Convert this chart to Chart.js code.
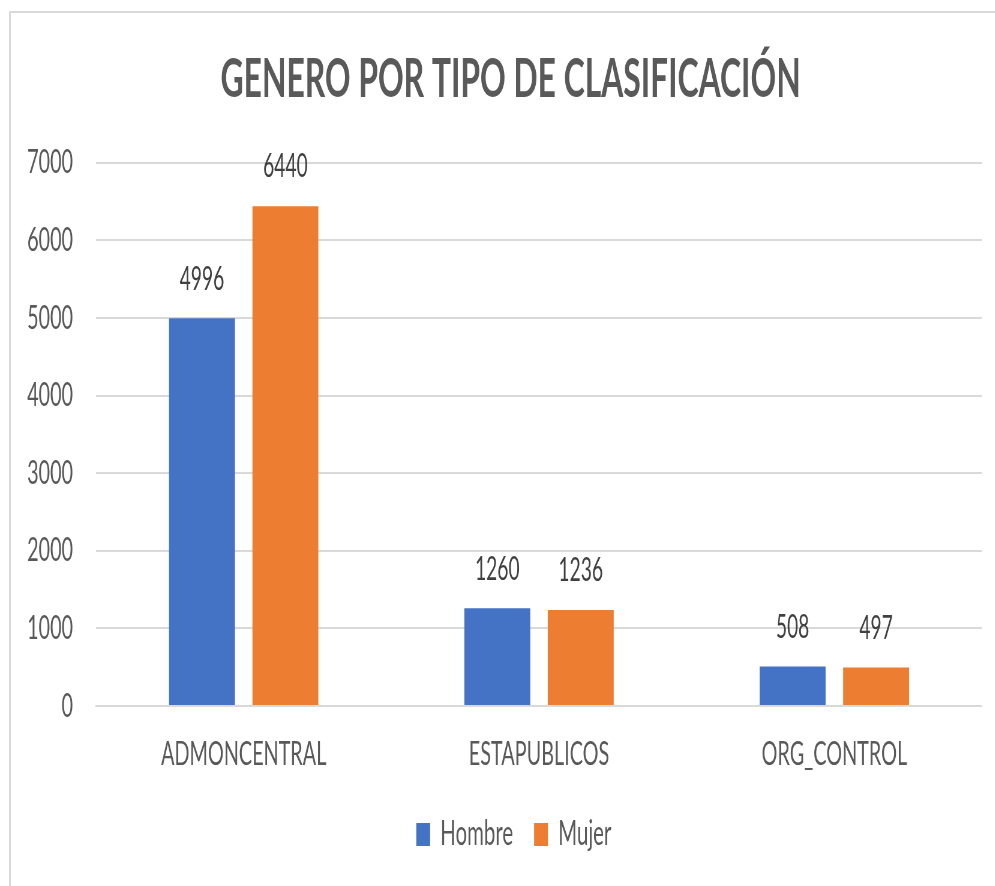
<!DOCTYPE html>
<html>
<head>
<meta charset="utf-8">
<script src="https://cdn.jsdelivr.net/npm/chart.js@4.4.1/dist/chart.umd.min.js"></script>
<style>
  html, body { margin: 0; padding: 0; background: #ffffff; overflow: hidden; width: 995px; height: 886px; }
  #frame { position: absolute; left: 9px; top: 11px; width: 2000px; height: 2000px; border: 2px solid #d9d9d9; box-sizing: border-box; }
  #wrap { position: absolute; left: 0; top: 0; width: 1658px; height: 886px; transform: scaleX(0.6); transform-origin: 0 0; }
</style>
</head>
<body>
<div id="frame"></div>
<div id="wrap"><canvas id="c" width="1658" height="886"></canvas></div>
<script>
const categories = ["ADMONCENTRAL", "ESTAPUBLICOS", "ORG_CONTROL"];
const hombre = [4996, 1260, 508];
const mujer = [6440, 1236, 497];
const seriesNames = ["Hombre", "Mujer"];
const yTicks = [0, 1000, 2000, 3000, 4000, 5000, 6000, 7000];
const chartTitle = "GENERO POR TIPO DE CLASIFICACIÓN";

const FONT = "Lato, 'Open Sans', sans-serif";

const valueLabels = {
  id: 'valueLabels',
  afterDatasetsDraw(chart) {
    const ctx = chart.ctx;
    ctx.save();
    ctx.font = "32px " + FONT;
    ctx.fillStyle = "#404040";
    ctx.textAlign = "center";
    ctx.textBaseline = "middle";
    chart.data.datasets.forEach((ds, i) => {
      const meta = chart.getDatasetMeta(i);
      meta.data.forEach((el, j) => {
        ctx.fillText(String(ds.data[j]), el.x, el.y - 39);
      });
    });
    ctx.restore();
  }
};

// Excel centres title and legend on the whole chart frame rather than the canvas
const boxShift = {
  id: 'boxShift',
  afterLayout(chart) {
    const tdx = 32.7, ldx = 38;
    chart.titleBlock.left += tdx;
    chart.titleBlock.right += tdx;
    chart.legend.left += ldx;
    chart.legend.right += ldx;
  }
};

new Chart(document.getElementById('c'), {
  type: 'bar',
  data: {
    labels: categories,
    datasets: [
      { label: seriesNames[0], data: hombre, backgroundColor: '#4472C4' },
      { label: seriesNames[1], data: mujer, backgroundColor: '#ED7D31' }
    ]
  },
  options: {
    responsive: false,
    animation: false,
    devicePixelRatio: 1,
    categoryPercentage: 0.565,
    barPercentage: 0.79,
    layout: { padding: { top: 20, left: 0, right: 21.3, bottom: 24.5 } },
    plugins: {
      title: {
        display: true,
        text: chartTitle,
        color: '#595959',
        font: { family: FONT, size: 53, weight: 'bold' },
        padding: { top: 28, bottom: 51.1 }
      },
      legend: {
        display: true,
        position: 'bottom',
        labels: {
          color: '#595959',
          font: { family: FONT, size: 34 },
          boxWidth: 23,
          boxHeight: 23,
          padding: 35
        }
      },
      tooltip: { enabled: false }
    },
    scales: {
      x: {
        grid: { display: false, drawTicks: false },
        border: { display: true, color: '#d9d9d9', width: 2 },
        ticks: { color: '#595959', font: { family: FONT, size: 33 }, padding: 28.2, maxRotation: 0, autoSkip: false },
        afterFit(scale) { scale.height = 76.5; }
      },
      y: {
        min: 0,
        max: 7000,
        grid: { color: '#d9d9d9', lineWidth: 2, drawTicks: false },
        border: { display: false },
        afterBuildTicks(scale) { scale.ticks = yTicks.map(v => ({ value: v })); },
        ticks: {
          color: '#595959',
          font: { family: FONT, size: 33 },
          padding: 38.3,
          callback: (v) => String(v)
        },
        afterFit(scale) { scale.width = 160; }
      }
    }
  },
  plugins: [valueLabels, boxShift]
});
</script>
</body>
</html>
